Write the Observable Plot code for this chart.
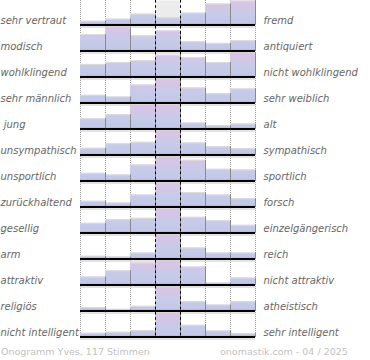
<!DOCTYPE html>
<html>
<head>
<meta charset="utf-8">
<script src="https://cdn.jsdelivr.net/npm/d3@7"></script>
<script src="https://cdn.jsdelivr.net/npm/@observablehq/plot@0.6"></script>
<style>
  body { margin: 0; background: #fff; }
  #wrap { position: relative; width: 370px; height: 360px; overflow: hidden; font-family: "DejaVu Sans", sans-serif; }
  #wrap svg { position: absolute; left: 0; top: 0; }
  .foot { position: absolute; top: 346px; font-size: 9.5px; line-height: 12px; color: #c2c2c2; white-space: nowrap; }
</style>
</head>
<body>
<div id="wrap"></div>
<script>
const leftLabels = ["sehr vertraut", "modisch", "wohlklingend", "sehr männlich", "\u00a0jung", "unsympathisch",
  "unsportlich", "zurückhaltend", "gesellig", "arm", "attraktiv", "religiös", "nicht intelligent"];
const rightLabels = ["fremd", "antiquiert", "nicht wohlklingend", "sehr weiblich", "alt", "sympathisch",
  "sportlich", "forsch", "einzelgängerisch", "reich", "nicht attraktiv", "atheistisch", "sehr intelligent"];
// estimated vote shares per scale step (7 steps), per row
const counts = [
  [3.7, 5.7, 10.7, 7, 11.7, 20.7, 23.7],
  [16.7, 24.3, 15.3, 20.3, 9.3, 7.7, 10.3],
  [12.7, 14.7, 16.7, 22, 19.7, 14.7, 24.3],
  [7.7, 6, 18, 24, 15, 9.3, 14],
  [10.3, 14.3, 24, 24, 6, 3.3, 5],
  [6.7, 11.3, 12.7, 24, 12, 8.3, 6.3],
  [7.7, 6, 16, 24, 20.7, 11.7, 11],
  [5.7, 4, 12, 24, 14.3, 12, 8.3],
  [9.7, 13.3, 14.7, 24, 15.7, 12.3, 7.7],
  [2.7, 2, 6, 24, 11, 6, 6],
  [8, 14.3, 22, 24, 18, 2, 7],
  [3.3, 1.7, 4.7, 24, 9.3, 6, 9.3],
  [3.7, 4.7, 6.3, 24, 11.7, 6, 3.3]
];
const steps = [0, 1, 2, 3, 4, 5, 6];
const gridEdges = [0, 1, 2, 5, 6, 7];
const neutralEdges = [3, 4];
const highlight = [{row: 0, col: 3}];
const footerLeft = "Onogramm Yves, 117 Stimmen";
const footerRight = "onomastik.com - 04 / 2025";

(function () {
const rows = leftLabels.map((_, i) => i);
const bars = counts.flatMap((vals, r) => {
  const m = d3.max(vals);
  return vals.map((v, c) => ({row: r, col: steps[c], h: v / m}));
});
const labels = rows.map(i => ({row: i, left: leftLabels[i], right: rightLabels[i]}));

const plot = Plot.plot({
  width: 370,
  height: 340,
  marginLeft: 80,
  marginRight: 115,
  marginTop: 0,
  marginBottom: 2,
  style: {fontFamily: "DejaVu Sans, sans-serif", fontSize: "10px", background: "transparent"},
  x: {domain: [0, 7], axis: null},
  y: {domain: [0, 1], axis: null, insetTop: 0.5, insetBottom: 1.5},
  fy: {domain: rows, axis: null, padding: 0},
  marks: [
    Plot.rectY(highlight, {fy: "row", x1: "col", x2: d => d.col + 1, y1: 0, y2: 1, fill: "#ececec"}),
    Plot.ruleX(gridEdges, {x: d => d, stroke: "#999", strokeWidth: 1, strokeDasharray: "1,1"}),
    Plot.rectY(bars, {fy: "row", x1: "col", x2: d => d.col + 1, y1: 0, y2: "h", fill: "url(#barGrad)"}),
    Plot.ruleY(bars, {fy: "row", y: "h", x1: "col", x2: d => d.col + 1, stroke: "#dcdcdc", strokeWidth: 1}),
    Plot.ruleX(bars, {fy: "row", x: d => d.col + 1, y1: 0, y2: "h", stroke: "#8a8a8a", strokeWidth: 1}),
    Plot.ruleY([0], {y: d => d, x1: 0, x2: 7, stroke: "#c8c8c8", strokeWidth: 1, dy: 2}),
    Plot.ruleY([0], {y: d => d, x1: 0, x2: 7, stroke: "#000", strokeWidth: 2}),
    Plot.ruleX(neutralEdges, {x: d => d, stroke: "#000", strokeWidth: 1, strokeDasharray: "2.6,2.6"}),
    Plot.text(labels, {fy: "row", text: "left", frameAnchor: "bottom-left", dx: -80, dy: -6,
      textAnchor: "start", lineAnchor: "middle", fontStyle: "italic", fill: "#666", fontSize: 10}),
    Plot.text(labels, {fy: "row", text: "right", frameAnchor: "bottom-right", dx: 8, dy: -6,
      textAnchor: "start", lineAnchor: "middle", fontStyle: "italic", fill: "#666", fontSize: 10})
  ]
});

// gradient in facet-local user space spanning one row band
const yr = plot.scale("y").range;
const gTop = Math.min(...yr) - 0.5, gBot = Math.max(...yr) + 1.5;
const defs = d3.select(plot).insert("defs", ":first-child");
const g = defs.append("linearGradient").attr("id", "barGrad")
  .attr("gradientUnits", "userSpaceOnUse")
  .attr("x1", 0).attr("x2", 0).attr("y1", gTop).attr("y2", gBot);
[[0, "#dcc4e4"], [0.3, "#d2c6e6"], [0.55, "#c6cbe9"], [0.86, "#c3c8e8"], [0.93, "#b8b2de"], [1, "#a894cc"]]
  .forEach(([o, c]) => g.append("stop").attr("offset", o).attr("stop-color", c));

const wrap = document.getElementById("wrap");
wrap.appendChild(plot);
const fl = document.createElement("div");
fl.className = "foot"; fl.style.left = "1px"; fl.textContent = footerLeft;
const fr = document.createElement("div");
fr.className = "foot"; fr.style.left = "220px"; fr.textContent = footerRight;
wrap.appendChild(fl); wrap.appendChild(fr);
})();
</script>
</body>
</html>
